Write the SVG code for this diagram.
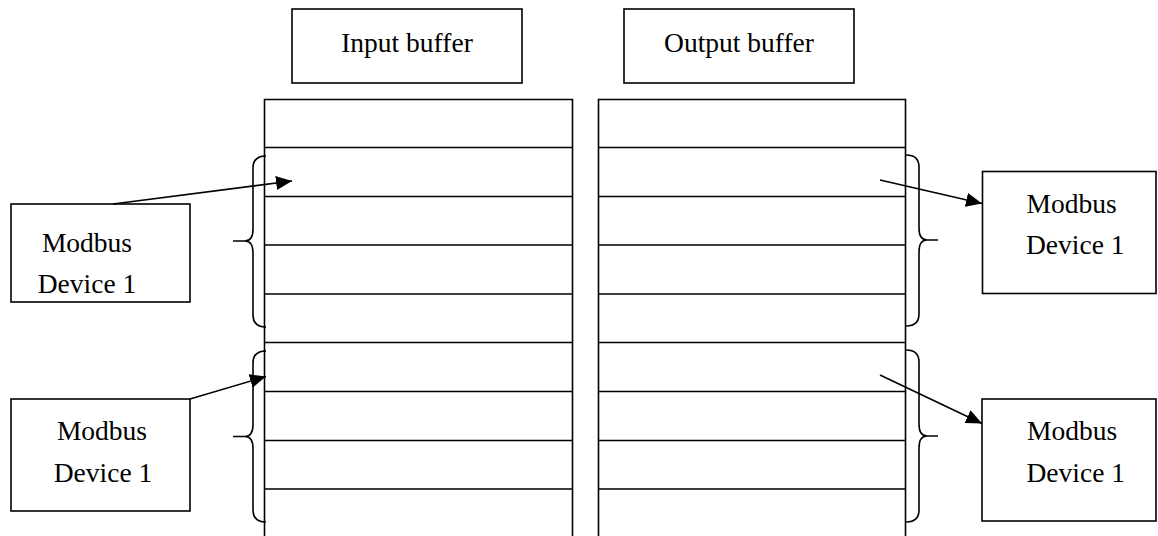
<svg xmlns="http://www.w3.org/2000/svg" width="1158" height="536" viewBox="0 0 1158 536">
<style>
.box{fill:#fff;stroke:#000;stroke-width:1.6}
.ln{fill:none;stroke:#000;stroke-width:1.6}
.t{font-family:"Liberation Serif","Times New Roman",serif;font-size:27.5px;fill:#000}
.m{text-anchor:middle}
</style>
<defs>
<marker id="ah" markerUnits="userSpaceOnUse" markerWidth="16" markerHeight="14" refX="16" refY="7" orient="auto">
<path d="M0,0 L16,7 L0,14 z" fill="#000"/>
</marker>
</defs>
<rect width="1158" height="536" fill="#fff"/>
<g id="input-buffer-label"><rect class="box" x="292" y="9" width="230" height="74"/><text class="t m" x="407" y="52">Input buffer</text></g>
<g id="output-buffer-label"><rect class="box" x="624" y="9" width="230" height="74"/><text class="t m" x="739" y="52">Output buffer</text></g>
<g id="input-buffer">
<path class="ln" d="M264.5 540 V99.5 H572.5 V540"/>
<path class="ln" d="M264.5 147.5H572.5M264.5 196.5H572.5M264.5 245H572.5M264.5 294H572.5M264.5 342.5H572.5M264.5 391.5H572.5M264.5 440.5H572.5M264.5 489H572.5"/>
</g>
<g id="output-buffer">
<path class="ln" d="M598.5 540 V99.5 H905.5 V540"/>
<path class="ln" d="M598.5 147.5H905.5M598.5 196.5H905.5M598.5 245H905.5M598.5 294H905.5M598.5 342.5H905.5M598.5 391.5H905.5M598.5 440.5H905.5M598.5 489H905.5"/>
</g>
<g id="braces">
<path class="ln" d="M266 156 Q253 156 253 168 L253 229 Q253 241 245 241 L233 241 M245 241 Q253 241 253 253 L253 315 Q253 327 266 327"/>
<path class="ln" d="M266 351 Q253 351 253 363 L253 424.5 Q253 436.5 245 436.5 L233 436.5 M245 436.5 Q253 436.5 253 448.5 L253 510 Q253 522 266 522"/>
<path class="ln" d="M906 155 Q919 155 919 167 L919 228 Q919 240 927 240 L938 240 M927 240 Q919 240 919 252 L919 314 Q919 326 906 326"/>
<path class="ln" d="M906 350 Q919 350 919 362 L919 424 Q919 436 927 436 L938 436 M927 436 Q919 436 919 448 L919 510 Q919 522 906 522"/>
</g>
<g id="device-left-1"><rect class="box" x="11" y="204" width="179" height="98"/><text class="t m" x="87" y="252">Modbus</text><text class="t m" x="87" y="293">Device 1</text></g>
<g id="device-left-2"><rect class="box" x="11" y="399" width="179" height="112"/><text class="t m" x="102" y="440">Modbus</text><text class="t m" x="103" y="481.5">Device 1</text></g>
<g id="device-right-1"><rect class="box" x="982.5" y="171.5" width="173.5" height="122"/><text class="t" x="1026.5" y="212.5">Modbus</text><text class="t" x="1026" y="254">Device 1</text></g>
<g id="device-right-2"><rect class="box" x="982" y="399" width="174" height="122"/><text class="t" x="1027" y="440">Modbus</text><text class="t" x="1026.5" y="481.5">Device 1</text></g>
<g id="connectors">
<line class="ln" x1="113" y1="204" x2="292" y2="181" marker-end="url(#ah)"/>
<line class="ln" x1="190" y1="399" x2="266" y2="376.5" marker-end="url(#ah)"/>
<line class="ln" x1="880" y1="180" x2="982" y2="203.5" marker-end="url(#ah)"/>
<line class="ln" x1="880" y1="375" x2="982" y2="423.5" marker-end="url(#ah)"/>
</g>
</svg>
